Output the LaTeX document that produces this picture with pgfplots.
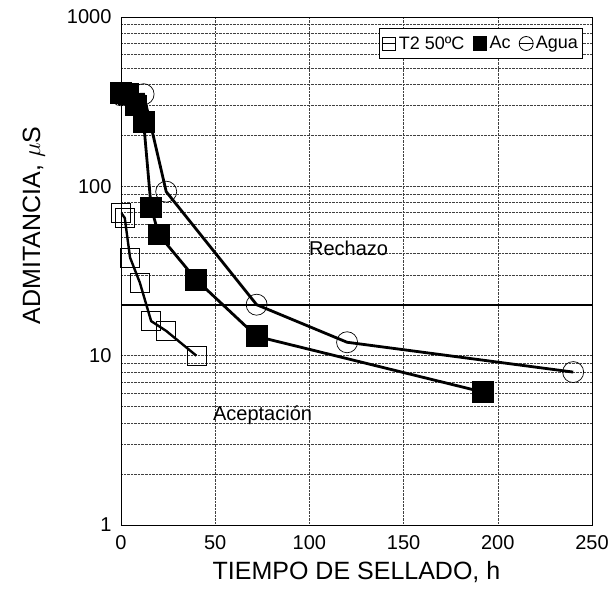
\documentclass[border=0pt]{standalone}
\usepackage{fontspec}
\setmainfont{Liberation Sans}
\usepackage{pgfplots}
\pgfplotsset{compat=1.18}

\begin{document}
\begin{tikzpicture}
\useasboundingbox (-121bp,-69bp) rectangle (491bp,525bp);
\begin{axis}[
  scale only axis, width=471bp, height=508bp,
  xmin=0, xmax=250, ymode=log, ymin=1, ymax=1000,
  xtick={0,50,...,250},
  ytick={1,10,100,1000}, yticklabels={1,10,100,1000},
  /pgf/number format/assume math mode=true,
  major tick length=0pt, minor tick length=0pt,
  xmajorgrids, ymajorgrids, yminorgrids,
  major grid style={densely dotted, line width=0.55bp, black!75},
  minor grid style={densely dotted, line width=0.55bp, black!75},
  axis line style={line width=0.8bp},
  tick label style={font=\fontsize{20bp}{22bp}\selectfont},
  xticklabel style={yshift=-7bp},
  yticklabel style={xshift=-6bp},
  xlabel={TIEMPO DE SELLADO, h},
  ylabel={ADMITANCIA, $\mu$S},
  label style={font=\fontsize{25bp}{28bp}\selectfont},
  xlabel style={at={(axis description cs:0.5,-0.0925)}, anchor=center},
  ylabel style={at={(axis description cs:-0.185,0.59)}, anchor=center},
  legend columns=3,
  legend style={at={(rel axis cs:0.979,0.978)}, anchor=north east, draw=black, line width=0.6bp,
    font=\fontsize{18bp}{21bp}\selectfont, inner xsep=2bp, inner ysep=6bp,
    /tikz/every even column/.append style={column sep=6bp},
    /tikz/every odd column/.append style={column sep=0bp}},
  legend image code/.code={\draw[#1] plot coordinates {(0bp,0bp)(7bp,0bp)(14bp,0bp)};},
]
% legend entries
\addlegendimage{line width=1.2bp, black, mark=square, mark size=6.5bp, mark repeat=2, mark phase=2, mark options={line width=0.8bp}}
\addlegendentry{T2 50ºC}
\addlegendimage{line width=1.2bp, black, mark=square*, mark size=6.5bp, mark repeat=2, mark phase=2}
\addlegendentry{Ac}
\addlegendimage{line width=1.2bp, black, mark=o, mark size=7bp, mark repeat=2, mark phase=2, mark options={line width=0.8bp}}
\addlegendentry{Agua}

% threshold line
\addplot[forget plot, black, line width=2.2bp] coordinates {(0,20)(250,20)};

% T2 50ºC
\addplot[forget plot, black, line width=2.4bp, mark=square, mark size=9.5bp,
  mark options={line width=0.7bp}] coordinates {
  (0,70)(2,65)(4.8,38)(10,27)(16,16)(24,14)(40,10)};

% Ac
\addplot[forget plot, black, line width=2.8bp, mark=square*, mark size=9.5bp] coordinates {
  (0,355)(4,350)(8,300)(12,240)(16,75)(20,52)(40,28)(72,13)(192,6.1)};

% Agua
\addplot[forget plot, black, line width=2.8bp, mark=o, mark size=10.5bp,
  mark options={line width=0.7bp}] coordinates {
  (0,345)(12,350)(24,93)(72,20)(120,12)(240,8)};

\node[anchor=west, font=\fontsize{20bp}{23bp}\selectfont] at (axis cs:98,43) {Rechazo};
\node[anchor=west, font=\fontsize{20bp}{23bp}\selectfont] at (axis cs:47,4.47) {Aceptación};
\end{axis}
\end{tikzpicture}
\end{document}
